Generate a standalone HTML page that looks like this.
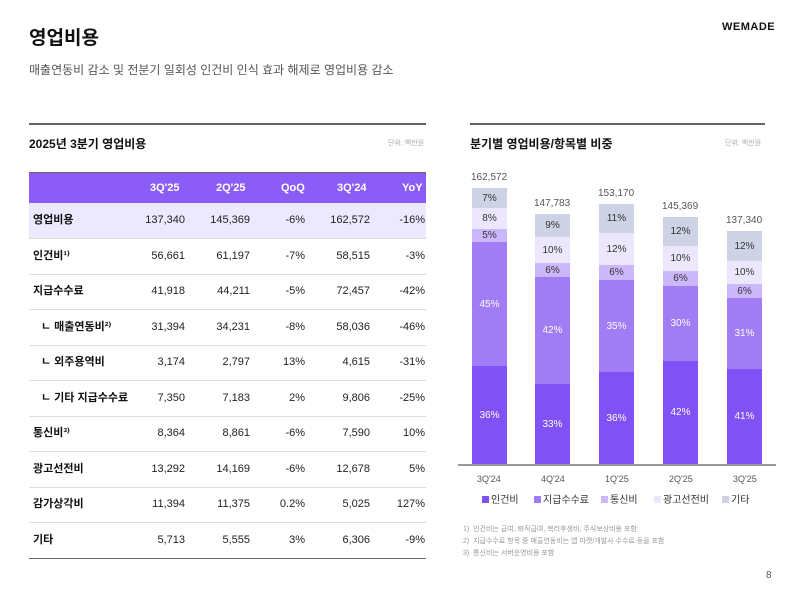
<!DOCTYPE html><html><head><meta charset="utf-8"><style>
body{margin:0;width:800px;height:598px;background:#fff;font-family:"Liberation Sans","Noto Sans CJK KR",sans-serif;position:relative;overflow:hidden;color:#111}
.a{position:absolute;white-space:nowrap}
.r{position:absolute;left:29px;width:397px;height:35px;border-bottom:1px solid #ddd;font-size:11px;line-height:35px}
.r span{position:absolute;top:0}
.r .l{left:4px;font-weight:bold}
.n{text-align:right;width:60px;color:#222}
.seg{position:absolute;width:35px;font-size:10px;text-align:center;display:flex;align-items:center;justify-content:center;color:#333}
.lg{position:absolute;top:491px;font-size:10px;color:#333}
.lg i{display:inline-block;width:7px;height:7px;margin-right:2px}
</style></head><body>
<div class="a" style="left:29px;top:23px;font-size:19px;font-weight:bold">영업비용</div>
<div class="a" style="left:29px;top:61px;font-size:12px;color:#555">매출연동비 감소 및 전분기 일회성 인건비 인식 효과 해제로 영업비용 감소</div>
<div class="a" style="left:722px;top:21px;font-size:11px;font-weight:bold;letter-spacing:.5px">WEMADE</div>
<div class="a" style="left:29px;top:123px;width:397px;height:2px;background:#666"></div>
<div class="a" style="left:470px;top:123px;width:295px;height:2px;background:#666"></div>
<div class="a" style="left:29px;top:135px;font-size:12px;font-weight:bold">2025년 3분기 영업비용</div>
<div class="a" style="left:388px;top:138px;font-size:7px;color:#aaa">단위: 백만원</div>
<div class="a" style="left:470px;top:135px;font-size:12px;font-weight:bold">분기별 영업비용/항목별 비중</div>
<div class="a" style="left:725px;top:138px;font-size:7px;color:#aaa">단위: 백만원</div>
<div class="a" style="left:29px;top:172px;width:397px;height:31px;background:#8b5cf6;color:#fff;font-size:11px;font-weight:bold;border-top:1px solid #666">
<span class="a" style="left:121px;top:9px">3Q'25</span><span class="a" style="left:187px;top:9px">2Q'25</span><span class="a" style="left:252px;top:9px">QoQ</span><span class="a" style="left:308px;top:9px">3Q'24</span><span class="a" style="left:373px;top:9px">YoY</span></div>
<div class="r" style="top:203px;background:#ece8fd"><span class="l">영업비용</span><span class="n" style="left:96px">137,340</span><span class="n" style="left:161px">145,369</span><span class="n" style="left:216px">-6%</span><span class="n" style="left:281px">162,572</span><span class="n" style="left:336px">-16%</span></div>
<div class="r" style="top:238.5px"><span class="l">인건비¹⁾</span><span class="n" style="left:96px">56,661</span><span class="n" style="left:161px">61,197</span><span class="n" style="left:216px">-7%</span><span class="n" style="left:281px">58,515</span><span class="n" style="left:336px">-3%</span></div>
<div class="r" style="top:274px"><span class="l">지급수수료</span><span class="n" style="left:96px">41,918</span><span class="n" style="left:161px">44,211</span><span class="n" style="left:216px">-5%</span><span class="n" style="left:281px">72,457</span><span class="n" style="left:336px">-42%</span></div>
<div class="r" style="top:309.5px"><span class="l" style="left:12px">ㄴ 매출연동비²⁾</span><span class="n" style="left:96px">31,394</span><span class="n" style="left:161px">34,231</span><span class="n" style="left:216px">-8%</span><span class="n" style="left:281px">58,036</span><span class="n" style="left:336px">-46%</span></div>
<div class="r" style="top:345px"><span class="l" style="left:12px">ㄴ 외주용역비</span><span class="n" style="left:96px">3,174</span><span class="n" style="left:161px">2,797</span><span class="n" style="left:216px">13%</span><span class="n" style="left:281px">4,615</span><span class="n" style="left:336px">-31%</span></div>
<div class="r" style="top:380.5px"><span class="l" style="left:12px">ㄴ 기타 지급수수료</span><span class="n" style="left:96px">7,350</span><span class="n" style="left:161px">7,183</span><span class="n" style="left:216px">2%</span><span class="n" style="left:281px">9,806</span><span class="n" style="left:336px">-25%</span></div>
<div class="r" style="top:416px"><span class="l">통신비³⁾</span><span class="n" style="left:96px">8,364</span><span class="n" style="left:161px">8,861</span><span class="n" style="left:216px">-6%</span><span class="n" style="left:281px">7,590</span><span class="n" style="left:336px">10%</span></div>
<div class="r" style="top:451.5px"><span class="l">광고선전비</span><span class="n" style="left:96px">13,292</span><span class="n" style="left:161px">14,169</span><span class="n" style="left:216px">-6%</span><span class="n" style="left:281px">12,678</span><span class="n" style="left:336px">5%</span></div>
<div class="r" style="top:487px"><span class="l">감가상각비</span><span class="n" style="left:96px">11,394</span><span class="n" style="left:161px">11,375</span><span class="n" style="left:216px">0.2%</span><span class="n" style="left:281px">5,025</span><span class="n" style="left:336px">127%</span></div>
<div class="r" style="top:522.5px;border-bottom:1px solid #666"><span class="l">기타</span><span class="n" style="left:96px">5,713</span><span class="n" style="left:161px">5,555</span><span class="n" style="left:216px">3%</span><span class="n" style="left:281px">6,306</span><span class="n" style="left:336px">-9%</span></div>

<div class="seg" style="left:472px;top:188px;height:20px;background:#cdd3e4">7%</div>
<div class="seg" style="left:472px;top:208px;height:21px;background:#ede7fd">8%</div>
<div class="seg" style="left:472px;top:229px;height:13px;background:#cbb8fb">5%</div>
<div class="seg" style="left:472px;top:242px;height:124px;background:#a07cf5;color:#fff">45%</div>
<div class="seg" style="left:472px;top:366px;height:98px;background:#8052f5;color:#fff">36%</div>
<div class="seg" style="left:535px;top:214px;height:23px;background:#cdd3e4">9%</div>
<div class="seg" style="left:535px;top:237px;height:26px;background:#ede7fd">10%</div>
<div class="seg" style="left:535px;top:263px;height:14px;background:#cbb8fb">6%</div>
<div class="seg" style="left:535px;top:277px;height:107px;background:#a07cf5;color:#fff">42%</div>
<div class="seg" style="left:535px;top:384px;height:80px;background:#8052f5;color:#fff">33%</div>
<div class="seg" style="left:599px;top:204px;height:29px;background:#cdd3e4">11%</div>
<div class="seg" style="left:599px;top:233px;height:32px;background:#ede7fd">12%</div>
<div class="seg" style="left:599px;top:265px;height:15px;background:#cbb8fb">6%</div>
<div class="seg" style="left:599px;top:280px;height:92px;background:#a07cf5;color:#fff">35%</div>
<div class="seg" style="left:599px;top:372px;height:92px;background:#8052f5;color:#fff">36%</div>
<div class="seg" style="left:663px;top:217px;height:29px;background:#cdd3e4">12%</div>
<div class="seg" style="left:663px;top:246px;height:25px;background:#ede7fd">10%</div>
<div class="seg" style="left:663px;top:271px;height:15px;background:#cbb8fb">6%</div>
<div class="seg" style="left:663px;top:286px;height:75px;background:#a07cf5;color:#fff">30%</div>
<div class="seg" style="left:663px;top:361px;height:103px;background:#8052f5;color:#fff">42%</div>
<div class="seg" style="left:727px;top:231px;height:30px;background:#cdd3e4">12%</div>
<div class="seg" style="left:727px;top:261px;height:23px;background:#ede7fd">10%</div>
<div class="seg" style="left:727px;top:284px;height:14px;background:#cbb8fb">6%</div>
<div class="seg" style="left:727px;top:298px;height:71px;background:#a07cf5;color:#fff">31%</div>
<div class="seg" style="left:727px;top:369px;height:95px;background:#8052f5;color:#fff">41%</div>
<div class="a" style="left:471px;top:172px;font-size:10px;color:#555">162,572</div>
<div class="a" style="left:534px;top:198px;font-size:10px;color:#555">147,783</div>
<div class="a" style="left:598px;top:188px;font-size:10px;color:#555">153,170</div>
<div class="a" style="left:662px;top:201px;font-size:10px;color:#555">145,369</div>
<div class="a" style="left:726px;top:215px;font-size:10px;color:#555">137,340</div>
<div class="a" style="left:458px;top:464px;width:318px;height:2px;background:#999"></div>
<div class="a" style="left:477px;top:474px;font-size:9px;color:#555">3Q'24</div>
<div class="a" style="left:541px;top:474px;font-size:9px;color:#555">4Q'24</div>
<div class="a" style="left:605px;top:474px;font-size:9px;color:#555">1Q'25</div>
<div class="a" style="left:669px;top:474px;font-size:9px;color:#555">2Q'25</div>
<div class="a" style="left:733px;top:474px;font-size:9px;color:#555">3Q'25</div>
<div class="lg" style="left:482px"><i style="background:#8052f5"></i>인건비</div>
<div class="lg" style="left:534px"><i style="background:#a07cf5"></i>지급수수료</div>
<div class="lg" style="left:601px"><i style="background:#cbb8fb"></i>통신비</div>
<div class="lg" style="left:654px"><i style="background:#ede7fd"></i>광고선전비</div>
<div class="lg" style="left:722px"><i style="background:#cdd3e4"></i>기타</div>
<div class="a" style="left:463px;top:524px;font-size:7px;color:#999;line-height:12px">1)&nbsp;&nbsp;인건비는 급여, 퇴직급여, 복리후생비, 주식보상비용 포함<br>2)&nbsp;&nbsp;지급수수료 항목 중 매출연동비는 앱 마켓/개발사 수수료 등을 포함<br>3)&nbsp;&nbsp;통신비는 서버운영비용 포함</div>
<div class="a" style="left:766px;top:570px;font-size:10px;color:#555">8</div>
</body></html>
